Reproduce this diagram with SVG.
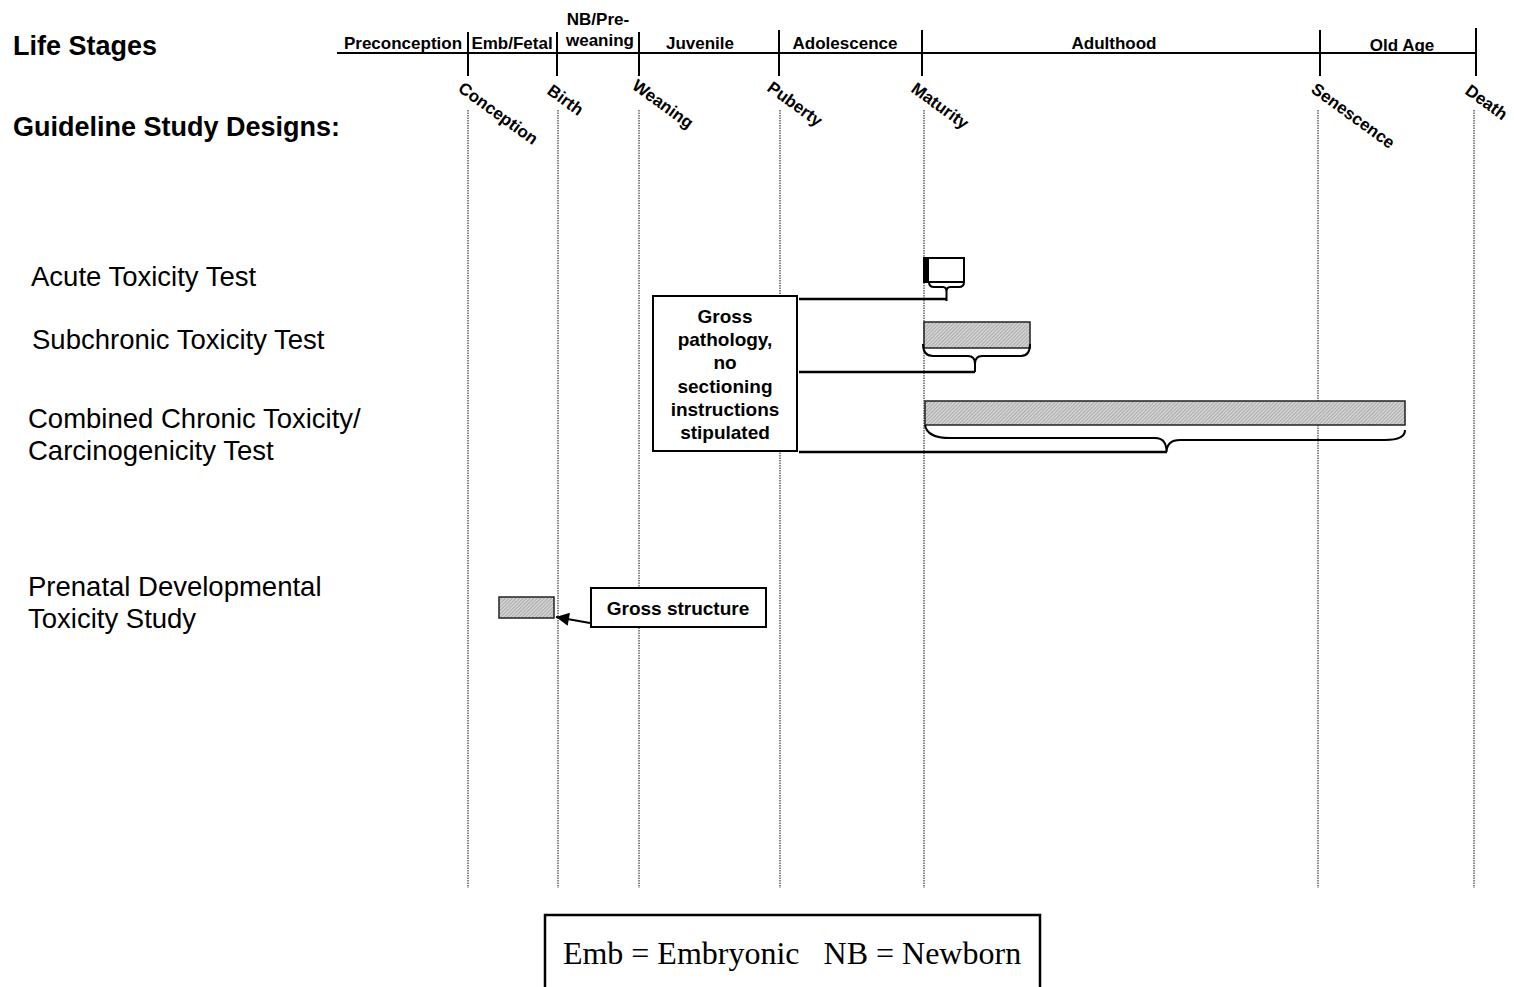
<svg xmlns="http://www.w3.org/2000/svg" width="1514" height="987" viewBox="0 0 1514 987">
<defs>
<pattern id="hatch" width="2.5" height="2.5" patternUnits="userSpaceOnUse" patternTransform="rotate(45)">
<rect width="2.5" height="2.5" fill="#d2d2d2"/>
<line x1="0" y1="0" x2="0" y2="2.5" stroke="#8a8a8a" stroke-width="1"/>
</pattern>
<marker id="arrow" viewBox="0 0 10 10" refX="10" refY="5" markerWidth="16" markerHeight="13" markerUnits="userSpaceOnUse" orient="auto">
<path d="M0,0 L10,5 L0,10 z" fill="#000"/>
</marker>
<style>
.h{font-family:"Liberation Sans",Arial,sans-serif;font-weight:bold;font-size:27px;fill:#000}
.lbl{font-family:"Liberation Sans",Arial,sans-serif;font-size:27.5px;fill:#000}
.st{font-family:"Liberation Sans",Arial,sans-serif;font-weight:bold;font-size:17px;fill:#000;text-anchor:middle}
.rot{font-family:"Liberation Sans",Arial,sans-serif;font-weight:bold;font-size:17px;fill:#000}
.note{font-family:"Liberation Sans",Arial,sans-serif;font-weight:bold;font-size:19px;fill:#000;text-anchor:middle}
.tl{stroke:#000;stroke-width:2;fill:none}
.dot{stroke:#111;stroke-width:1;stroke-dasharray:1.5,1;fill:none}
.bar{fill:url(#hatch);stroke:#222;stroke-width:1.5}
.brace{fill:none;stroke:#000;stroke-width:2}
.con{fill:none;stroke:#000;stroke-width:2.5}
.box{fill:#fff;stroke:#000;stroke-width:2}
</style>
</defs>
<rect width="1514" height="987" fill="#fff"/>

<g id="headings">
<text class="h" x="13" y="55">Life Stages</text>
<text class="h" x="13" y="136">Guideline Study Designs:</text>
</g>

<g id="timeline">
<line class="tl" x1="337" y1="53" x2="1477" y2="53"/>
<line class="tl" x1="468" y1="32" x2="468" y2="76"/>
<line class="tl" x1="557" y1="32" x2="557" y2="76"/>
<line class="tl" x1="639" y1="32" x2="639" y2="76"/>
<line class="tl" x1="779" y1="30" x2="779" y2="76"/>
<line class="tl" x1="922" y1="30" x2="922" y2="76"/>
<line class="tl" x1="1320" y1="30" x2="1320" y2="76"/>
<line class="tl" x1="1476" y1="28" x2="1476" y2="76"/>
<text class="st" x="403" y="49">Preconception</text>
<text class="st" x="512" y="49">Emb/Fetal</text>
<text class="st" x="598" y="25">NB/Pre-</text>
<text class="st" x="600" y="46">weaning</text>
<text class="st" x="700" y="49">Juvenile</text>
<text class="st" x="845" y="49">Adolescence</text>
<text class="st" x="1114" y="49">Adulthood</text>
<text class="st" x="1402" y="51">Old Age</text>
</g>

<g id="milestones">
<text class="rot" transform="translate(457,90.5) rotate(36)">Conception</text>
<text class="rot" transform="translate(546,93) rotate(36)">Birth</text>
<text class="rot" transform="translate(631,88) rotate(36)">Weaning</text>
<text class="rot" transform="translate(766,90) rotate(36)">Puberty</text>
<text class="rot" transform="translate(910,91) rotate(36)">Maturity</text>
<text class="rot" transform="translate(1310,91.5) rotate(36)">Senescence</text>
<text class="rot" transform="translate(1464,93) rotate(36)">Death</text>
</g>

<g id="gridlines">
<line class="dot" x1="468" y1="110" x2="468" y2="888"/>
<line class="dot" x1="558" y1="110" x2="558" y2="888"/>
<line class="dot" x1="639" y1="110" x2="639" y2="888"/>
<line class="dot" x1="780" y1="110" x2="780" y2="888"/>
<line class="dot" x1="924" y1="110" x2="924" y2="888"/>
<line class="dot" x1="1318" y1="110" x2="1318" y2="888"/>
<line class="dot" x1="1474" y1="110" x2="1474" y2="888"/>
</g>

<g id="study-labels">
<text class="lbl" x="31" y="286">Acute Toxicity Test</text>
<text class="lbl" x="32" y="349">Subchronic Toxicity Test</text>
<text class="lbl" x="28" y="428">Combined Chronic Toxicity/</text>
<text class="lbl" x="28" y="460">Carcinogenicity Test</text>
<text class="lbl" x="28" y="596">Prenatal Developmental</text>
<text class="lbl" x="28" y="628">Toxicity Study</text>
</g>

<g id="acute">
<rect class="box" x="924" y="258" width="40" height="24" stroke-width="1.8"/>
<rect x="924" y="258" width="5" height="24" fill="#000"/>
<path class="brace" d="M929,282 Q929,287 934,287 L943,287 Q946.5,287 946.5,292 L946.5,301 M946.5,292 Q946.5,287 950,287 L959,287 Q964,287 964,282"/>
</g>

<g id="subchronic">
<rect class="bar" x="924" y="322" width="106" height="26"/>
<path class="brace" d="M923,344 Q923,356 933,356 L968,356 Q975,356 975,364 L975,372 M975,364 Q975,356 982,356 L1021,356 Q1030,356 1030,344"/>
</g>

<g id="chronic">
<rect class="bar" x="925" y="401" width="480" height="24"/>
<path class="brace" d="M925,425 Q927,438 950,438 L1155,438 Q1166.5,438 1166.5,452 M1166.5,452 Q1167,440 1180,440 L1385,440 Q1405,440 1405,430"/>
</g>

<g id="prenatal">
<rect class="bar" x="499" y="597" width="55" height="21"/>
</g>

<g id="note-gross-pathology">
<rect class="box" x="653" y="296" width="144" height="155"/>
<text class="note" x="725" y="323">Gross</text>
<text class="note" x="725" y="346">pathology,</text>
<text class="note" x="725" y="369">no</text>
<text class="note" x="725" y="393">sectioning</text>
<text class="note" x="725" y="416">instructions</text>
<text class="note" x="725" y="439">stipulated</text>
</g>

<g id="note-gross-structure">
<rect class="box" x="591" y="588" width="175" height="39"/>
<text class="note" x="678" y="615">Gross structure</text>
</g>

<g id="connectors">
<line class="con" x1="799" y1="299" x2="946" y2="299"/>
<line class="con" x1="799" y1="372" x2="975" y2="372"/>
<line class="con" x1="799" y1="452" x2="1167" y2="452"/>
<line x1="590" y1="623" x2="556" y2="617" stroke="#000" stroke-width="2" marker-end="url(#arrow)"/>
</g>

<g id="legend">
<rect x="545" y="915" width="495" height="100" fill="#fff" stroke="#000" stroke-width="2.5"/>
<text x="792" y="964" text-anchor="middle" font-family="'Liberation Serif','Times New Roman',serif" font-size="32" xml:space="preserve">Emb = Embryonic   NB = Newborn</text>
</g>
</svg>
